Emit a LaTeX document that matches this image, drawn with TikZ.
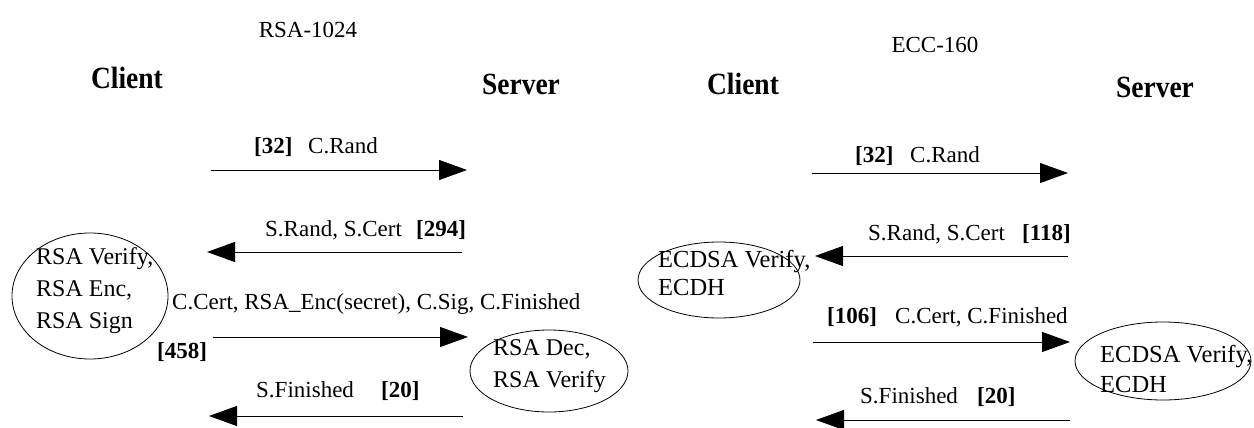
\documentclass[tikz,border=0pt]{standalone}
\usepackage{fontspec}
\setmainfont{Liberation Serif}
\usetikzlibrary{arrows.meta,shapes.geometric}
\tikzset{
  msg/.style={line width=1pt,-{Triangle[length=28pt,width=20pt]}},
  lbl/.style={anchor=base west,inner sep=0pt,font=\fontsize{23}{30}\selectfont},
  blbl/.style={lbl,font=\fontsize{23}{30}\selectfont\bfseries},
  hdr/.style={inner sep=0pt,font=\fontsize{23}{30}\selectfont},
  bhdr/.style={inner sep=0pt,font=\fontsize{27.5}{30}\selectfont\bfseries},
  op/.style={draw,line width=0.8pt,ellipse,inner sep=0pt},
  optext/.style={anchor=base west,inner sep=0pt,align=left,font=\fontsize{24}{32}\selectfont}
}
\begin{document}
\begin{tikzpicture}[x=1pt,y=-1pt]
\useasboundingbox (0,0) rectangle (1254,428);
% headers
\node[hdr] (t1) at (308,30) {RSA-1024};
\node[hdr] (t2) at (935,45) {ECC-160};
\node[bhdr] (c1) at (127,78) {\scalebox{1}[1.12]{Client}};
\node[bhdr] (s1) at (521,84) {\scalebox{1}[1.12]{Server}};
\node[bhdr] (c2) at (743,84) {\scalebox{1}[1.12]{Client}};
\node[bhdr] (s2) at (1155,87) {\scalebox{1}[1.12]{Server}};
% left side
\coordinate (a1s) at (211,170); \coordinate (a1e) at (467,170);
\coordinate (a2s) at (462,252); \coordinate (a2e) at (207,252);
\coordinate (a3s) at (213,337); \coordinate (a3e) at (468,337);
\coordinate (a4s) at (463,416); \coordinate (a4e) at (209,416);
\draw[msg] (a1s) -- (a1e);
\draw[msg] (a2s) -- (a2e);
\draw[msg] (a3s) -- (a3e);
\draw[msg] (a4s) -- (a4e);
\node[blbl] (l1a) at (254,153) {[32]};
\node[lbl] (l1b) at (308,153) {C.Rand};
\node[lbl] (l2a) at (265,236) {S.Rand, S.Cert};
\node[blbl] (l2b) at (416,236) {[294]};
\node[lbl] (l3a) at (172,309) {C.Cert, RSA\_Enc(secret), C.Sig, C.Finished};
\node[blbl] (l3b) at (157,358) {[458]};
\node[lbl] (l4a) at (256,397) {S.Finished};
\node[blbl] (l4b) at (381,397) {[20]};
\node[op,minimum width=156pt,minimum height=126pt] (e1) at (90,296) {};
\node[optext] (e1t) at (36,328) {RSA Verify,\\RSA Enc,\\RSA Sign};
\node[op,minimum width=158pt,minimum height=82pt] (e2) at (549,371) {};
\node[optext] (e2t) at (493,387) {RSA Dec,\\RSA Verify};
% right side
\coordinate (b1s) at (812,173); \coordinate (b1e) at (1068,173);
\coordinate (b2s) at (1068,256); \coordinate (b2e) at (815,256);
\coordinate (b3s) at (813,342); \coordinate (b3e) at (1070,342);
\coordinate (b4s) at (1070,420); \coordinate (b4e) at (816,420);
\draw[msg] (b1s) -- (b1e);
\draw[msg] (b2s) -- (b2e);
\draw[msg] (b3s) -- (b3e);
\draw[msg] (b4s) -- (b4e);
\node[blbl] (r1a) at (855,162) {[32]};
\node[lbl] (r1b) at (910,162) {C.Rand};
\node[lbl] (r2a) at (868,240) {S.Rand, S.Cert};
\node[blbl] (r2b) at (1022,240) {[118]};
\node[blbl] (r3a) at (827,323) {[106]};
\node[lbl] (r3b) at (895,323) {C.Cert, C.Finished};
\node[lbl] (r4a) at (860,403) {S.Finished};
\node[blbl] (r4b) at (977,403) {[20]};
\node[op,minimum width=162pt,minimum height=76pt] (e3) at (719,280) {};
\node[optext,font=\fontsize{24.5}{28}\selectfont] (e3t) at (658,295) {ECDSA Verify,\\ECDH};
\node[op,minimum width=176pt,minimum height=78pt] (e4) at (1163,361) {};
\node[optext,font=\fontsize{24.5}{30}\selectfont] (e4t) at (1100,392) {ECDSA Verify,\\ECDH};
\end{tikzpicture}
\end{document}
